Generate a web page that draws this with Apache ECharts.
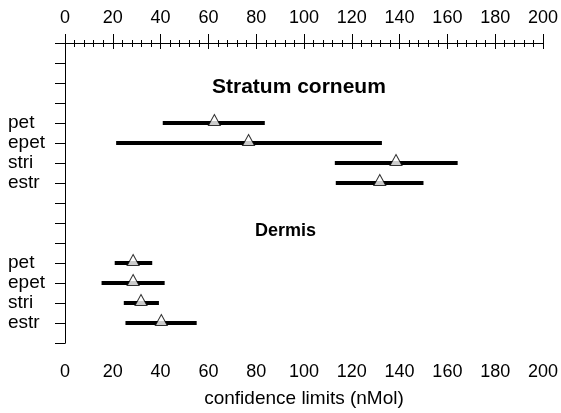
<!DOCTYPE html>
<html>
<head>
<meta charset="utf-8">
<script src="https://cdn.jsdelivr.net/npm/echarts@6/dist/echarts.min.js"></script>
<style>
  html, body { margin: 0; padding: 0; background: #fff; }
  #main { width: 561px; height: 413px; }
</style>
</head>
<body>
<div id="main"></div>
<script>
'use strict'
// confidence limits chart

var rowNames = { 4: 'pet', 5: 'epet', 6: 'stri', 7: 'estr', 11: 'pet', 12: 'epet', 13: 'stri', 14: 'estr' };
var rows = [4, 5, 6, 7, 11, 12, 13, 14];
var lowVals = [40.9, 21.4, 112.9, 113.3, 20.8, 15.3, 24.6, 25.3];
var highVals = [83.6, 132.6, 164.3, 150.0, 36.5, 41.7, 39.3, 55.1];
var midVals = [62.5, 76.8, 138.5, 131.7, 28.5, 28.5, 31.8, 40.3];
var xTicks = [0, 20, 40, 60, 80, 100, 120, 140, 160, 180, 200];

var font = 'Liberation Sans, Arial, sans-serif';

var barData = rows.map(function (r, i) { return [lowVals[i], highVals[i], r]; });
var midData = rows.map(function (r, i) { return [midVals[i], r]; });

var xBase = {
    type: 'value',
    min: xTicks[0],
    max: xTicks[xTicks.length - 1],
    interval: 20,
    splitLine: { show: false },
    axisLine: { lineStyle: { color: '#000', width: 1 } },
    axisLabel: { color: '#000', fontSize: 18, fontFamily: font, margin: 20 },
    axisTick: { show: true, inside: false, length: 6, lineStyle: { color: '#000' } },
    minorTick: { show: true, splitNumber: 5, length: 4, lineStyle: { color: '#000' } }
};

var option = {
    animation: false,
    backgroundColor: '#fff',
    grid: { left: 65, right: 16, top: 43, bottom: 66 },
    xAxis: [
        Object.assign({}, xBase, {
            position: 'bottom',
            name: 'confidence limits (nMol)',
            nameLocation: 'middle',
            nameGap: 46,
            nameTextStyle: { color: '#000', fontSize: 19, fontFamily: font }
        }),
        Object.assign({}, xBase, {
            position: 'top',
            axisLabel: { color: '#000', fontSize: 18, fontFamily: font, margin: 16 },
            axisTick: { show: true, inside: false, length: 9, lineStyle: { color: '#000' } },
            minorTick: { show: true, splitNumber: 5, length: 3, lineStyle: { color: '#000' } }
        })
    ],
    yAxis: [
        {
            type: 'value',
            inverse: true,
            min: 0,
            max: 15,
            interval: 1,
            splitLine: { show: false },
            axisLine: { lineStyle: { color: '#000' } },
            axisTick: { length: 10, lineStyle: { color: '#000' } },
            axisLabel: {
                color: '#000', fontSize: 19, fontFamily: font,
                align: 'left', margin: 57, padding: [0, 0, 8, 0],
                formatter: function (v) { return rowNames[v] || ''; }
            }
        },
        {
            type: 'value',
            position: 'right',
            inverse: true,
            min: 0,
            max: 15,
            splitLine: { show: false },
            axisLine: { show: true, lineStyle: { color: '#000' } },
            axisTick: { show: false },
            axisLabel: { show: false }
        }
    ],
    graphic: [
        {
            type: 'text', left: 212, top: 77,
            style: { text: 'Stratum corneum', fill: '#000', font: 'bold 21px ' + font }
        },
        {
            type: 'text', left: 255, top: 222,
            style: { text: 'Dermis', fill: '#000', font: 'bold 18px ' + font }
        }
    ],
    series: [
        {
            type: 'custom',
            xAxisIndex: 0,
            yAxisIndex: 0,
            data: barData,
            renderItem: function (params, api) {
                var p1 = api.coord([api.value(0), api.value(2)]);
                var p2 = api.coord([api.value(1), api.value(2)]);
                return {
                    type: 'line',
                    shape: { x1: p1[0], y1: p1[1], x2: p2[0], y2: p2[1] },
                    style: { stroke: '#000', lineWidth: 4 }
                };
            }
        },
        {
            type: 'scatter',
            xAxisIndex: 0,
            yAxisIndex: 0,
            data: midData,
            symbol: 'triangle',
            symbolSize: [12, 11],
            symbolOffset: [0, -3],
            itemStyle: { color: '#fff', borderColor: '#000', borderWidth: 1 },
            z: 5
        }
    ]
};

var myChart = echarts.init(document.getElementById('main'));
myChart.setOption(option);
</script>
</body>
</html>
